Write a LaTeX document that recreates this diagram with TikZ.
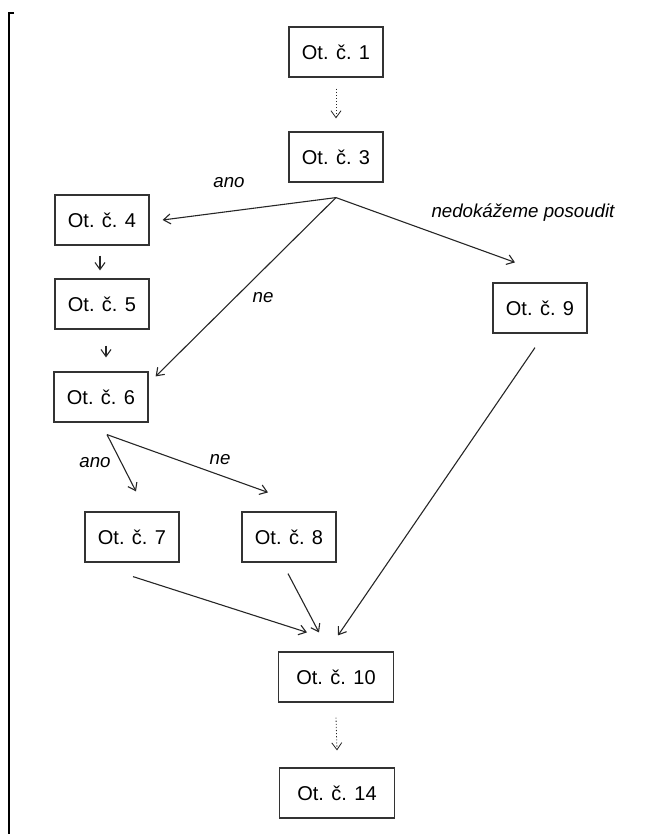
\documentclass[tikz,border=0pt]{standalone}
\usepackage{fontspec}
\setmainfont{Liberation Sans}
\usetikzlibrary{arrows.meta}

\tikzset{
  otbox/.style={draw=black!80, line width=1.2pt, minimum width=94pt, minimum height=50pt,
    inner sep=0pt, font=\fontsize{20}{24}\selectfont},
  widebox/.style={otbox, minimum width=115pt},
  arr/.style={-{Straight Barb[length=7pt,width=10pt]}, line width=1.1pt, draw=black!85},
  dotarr/.style={arr, dotted, line width=0.8pt},
  lbl/.style={font=\fontsize{18.7}{22}\selectfont\itshape, inner sep=0pt},
}

\begin{document}
\begin{tikzpicture}[x=1pt,y=-1pt]
\useasboundingbox (0,0) rectangle (645,834);
% frame edge on the left
\draw[line width=2pt] (14,13) -| (9,834);

% questions
\node[otbox] (q1) at (336,52) {Ot. č. 1};
\node[otbox] (q3) at (336,157) {Ot. č. 3};
\node[otbox] (q4) at (102,220) {Ot. č. 4};
\node[otbox] (q5) at (102,304) {Ot. č. 5};
\node[otbox] (q6) at (101,397) {Ot. č. 6};
\node[otbox] (q9) at (540,308) {Ot. č. 9};
\node[otbox] (q7) at (132,537) {Ot. č. 7};
\node[otbox] (q8) at (289,537) {Ot. č. 8};
\node[widebox] (q10) at (336,677) {Ot. č. 10};
\node[widebox] (q14) at (337,793) {Ot. č. 14};

% fork points
\coordinate (f3) at ([yshift=-15pt]q3.south);
\coordinate (f6) at ([xshift=6pt,yshift=-12pt]q6.south);

% connectors
\draw[dotarr] ([yshift=-11pt]q1.south) -- ([yshift=13pt]q3.north);
\draw[arr] (f3) -- ([xshift=13pt]q4.east);
\draw[arr] (f3) -- ([xshift=7pt,yshift=-5pt]q6.north east);
\draw[arr] (f3) -- ([xshift=-25pt,yshift=20pt]q9.north);
\draw[arr] ([xshift=-2pt,yshift=-10pt]q4.south) -- ([xshift=-2pt,yshift=8pt]q5.north);
\draw[arr] ([xshift=4pt,yshift=-16pt]q5.south) -- ([xshift=5pt,yshift=14pt]q6.north);
\draw[arr] (f6) -- ([xshift=4pt,yshift=20pt]q7.north);
\draw[arr] (f6) -- ([xshift=-21pt,yshift=19pt]q8.north);
\draw[arr] ([xshift=1pt,yshift=-14pt]q7.south) -- ([xshift=-29pt,yshift=19pt]q10.north);
\draw[arr] ([xshift=-1pt,yshift=-11pt]q8.south) -- ([xshift=-17pt,yshift=19pt]q10.north);
\draw[arr] ([xshift=-5pt,yshift=-14pt]q9.south) -- ([xshift=2pt,yshift=16pt]q10.north);
\draw[dotarr] ([yshift=-15pt]q10.south) -- ([yshift=17pt]q14.north);

% answers
\node[lbl] (a3ano) at (229,183) {ano};
\node[lbl] (a3ne) at (263,298) {ne};
\node[lbl] (a3nev) at (523,213) {nedokážeme posoudit};
\node[lbl] (a6ano) at (95,463) {ano};
\node[lbl] (a6ne) at (220,460) {ne};
\end{tikzpicture}
\end{document}
